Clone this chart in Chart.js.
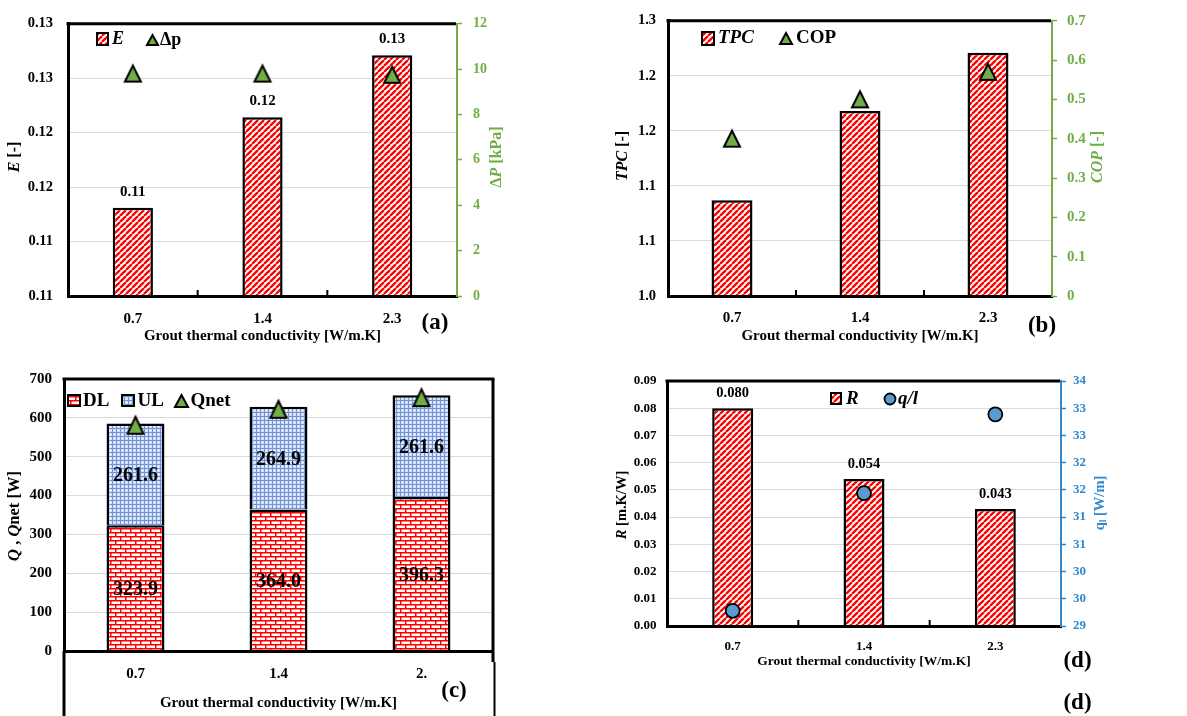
<!DOCTYPE html>
<html>
<head>
<meta charset="utf-8">
<script src="https://cdn.jsdelivr.net/npm/chart.js@4.4.1/dist/chart.umd.min.js"></script>
<style>
  html, body { margin: 0; padding: 0; background: #fff; }
  #fig { position: relative; width: 1187px; height: 716px; overflow: hidden; background: #fff; }
  #fig canvas { position: absolute; left: 0; top: 0; }
</style>
</head>
<body>
<div id="fig">
  <canvas id="panelA" width="1187" height="716"></canvas>
  <canvas id="panelB" width="1187" height="716"></canvas>
  <canvas id="panelC" width="1187" height="716"></canvas>
  <canvas id="panelD" width="1187" height="716"></canvas>
</div>
<script>
// ---- data ----
const conductivity = ['0.7', '1.4', '2.3'];
const conductivityC = ['0.7', '1.4', '2.'];

const effectiveness = [0.1131, 0.1214, 0.1271];   // E [-]
const pressureDrop = [9.8, 9.8, 9.75];              // ΔP [kPa]

const tpc = [1.087, 1.168, 1.221];                  // TPC [-]
const cop = [0.40, 0.50, 0.57];                     // COP [-]

const downLeg = [323.9, 364.0, 396.3];              // DL [W]
const upLeg = [261.6, 264.9, 261.6];                // UL [W]
const qNet = [581, 622, 652];                       // Qnet [W]

const resistance = [0.080, 0.054, 0.043];           // R [m.K/W]
const heatRate = [29.31, 31.71, 33.32];             // q_l [W/m]

const ticksE = ['0.11', '0.11', '0.12', '0.12', '0.13', '0.13'];
const ticksDP = ['0', '2', '4', '6', '8', '10', '12'];
const ticksTPC = ['1.0', '1.1', '1.1', '1.2', '1.2', '1.3'];
const ticksCOP = ['0', '0.1', '0.2', '0.3', '0.4', '0.5', '0.6', '0.7'];
const ticksQ = ['0', '100', '200', '300', '400', '500', '600', '700'];
const ticksR = ['0.00', '0.01', '0.02', '0.03', '0.04', '0.05', '0.06', '0.07', '0.08', '0.09'];
const ticksQl = ['29', '30', '30', '31', '31', '32', '32', '33', '33', '34'];

// ---- styling ----
const W = 1187, H = 716;
const SERIF = "'Liberation Serif', 'Times New Roman', Times, serif";
const GREEN = '#70AD47';
const BLUE = '#2F89CC';
const GRID = '#D9D9D9';
const XTITLE = 'Grout thermal conductivity [W/m.K]';

Chart.defaults.font.family = SERIF;
Chart.defaults.animation = false;
Chart.defaults.events = [];
Chart.defaults.plugins.legend.display = false;
Chart.defaults.plugins.tooltip.enabled = false;

// ---- fill patterns ----
function tile(w, h, paint) {
  const c = document.createElement('canvas');
  c.width = w; c.height = h;
  paint(c.getContext('2d'));
  return c;
}
function stripes(ctx) {
  return ctx.createPattern(tile(6, 6, g => {
    g.fillStyle = '#fff'; g.fillRect(0, 0, 6, 6);
    g.strokeStyle = '#ff0000'; g.lineWidth = 2.3; g.beginPath();
    for (const o of [-6, 0, 6]) { g.moveTo(o, 6); g.lineTo(o + 6, 0); }
    g.stroke();
  }), 'repeat');
}
function bricks(ctx) {
  return ctx.createPattern(tile(10, 8, g => {
    g.fillStyle = '#fff'; g.fillRect(0, 0, 10, 8);
    g.fillStyle = '#ff0000';
    g.fillRect(0, 0, 10, 1.5); g.fillRect(0, 4, 10, 1.5);
    g.fillRect(0, 0, 1.5, 4); g.fillRect(5, 4, 1.5, 4);
  }), 'repeat');
}
function weave(ctx) {
  return ctx.createPattern(tile(4, 4, g => {
    g.fillStyle = '#d3def5'; g.fillRect(0, 0, 4, 4);
    g.fillStyle = '#7193d8';
    g.fillRect(0, 0, 4, 1); g.fillRect(0, 0, 1, 4);
    g.fillStyle = '#ffffff'; g.fillRect(2, 2, 1, 1);
  }), 'repeat');
}
function triangle(w, h) {
  const p = 3;
  return tile(w + 2 * p, h + 2 * p, g => {
    g.beginPath();
    g.moveTo(p + w / 2, p); g.lineTo(p + w, p + h); g.lineTo(p, p + h); g.closePath();
    g.fillStyle = GREEN; g.fill();
    g.lineWidth = 2; g.strokeStyle = '#000'; g.lineJoin = 'miter'; g.stroke();
  });
}

// ---- text helpers ----
function partFont(p, size) {
  const s = p[1] || '';
  const sz = s.includes('sub') ? size * 0.65 : size;
  return (s.includes('i') && !s.includes('sub') ? 'italic ' : '') + 'bold ' + sz + 'px ' + SERIF;
}
function drawRich(ctx, parts, x, y, size, color, rot, align) {
  ctx.save();
  ctx.translate(x, y);
  if (rot) ctx.rotate(rot);
  ctx.fillStyle = color;
  ctx.textBaseline = 'middle';
  ctx.textAlign = 'left';
  let total = 0;
  const widths = parts.map(p => { ctx.font = partFont(p, size); const w = ctx.measureText(p[0]).width; total += w; return w; });
  let cx = align === 'left' ? 0 : -total / 2;
  parts.forEach((p, i) => {
    ctx.font = partFont(p, size);
    const dy = (p[1] || '').includes('sub') ? size * 0.28 : 0;
    ctx.fillText(p[0], cx, dy);
    cx += widths[i];
  });
  ctx.restore();
}
function line(ctx, x1, y1, x2, y2, w, color) {
  ctx.save();
  ctx.beginPath(); ctx.moveTo(x1, y1); ctx.lineTo(x2, y2);
  ctx.lineWidth = w; ctx.strokeStyle = color; ctx.lineCap = 'butt'; ctx.stroke();
  ctx.restore();
}

// ---- axes ----
function xAxis(A, size, pad, stacked) {
  return {
    type: 'category', offset: true, stacked: !!stacked,
    afterFit: s => { s.height = H - A.b; },
    grid: { display: false },
    border: { display: true, color: '#000', width: 3, z: 1 },
    ticks: { padding: pad, color: '#000', maxRotation: 0, minRotation: 0, autoSkip: false,
             font: { family: SERIF, weight: 'bold', size: size } }
  };
}
function leftAxis(A, o) {
  return {
    type: 'linear', position: 'left', min: o.min, max: o.max, stacked: !!o.stacked,
    afterFit: s => { s.width = A.l; },
    grid: { color: GRID, lineWidth: 1, drawTicks: false },
    border: { display: true, color: '#000', width: 3, z: 1 },
    ticks: { count: o.labels.length, padding: o.pad, color: '#000',
             font: { family: SERIF, weight: 'bold', size: o.size },
             callback: (v, i) => o.labels[i] }
  };
}
function rightAxis(A, o) {
  return {
    type: 'linear', position: 'right', min: o.min, max: o.max,
    afterFit: s => { s.width = W - A.r; },
    grid: { drawOnChartArea: false, drawTicks: true, tickLength: 5, color: o.color, tickColor: o.color, tickWidth: 1.5 },
    border: { display: true, color: o.color, width: 2, z: 1 },
    ticks: { count: o.labels.length, padding: o.pad, color: o.color,
             font: { family: SERIF, weight: 'bold', size: o.size },
             callback: (v, i) => o.labels[i] }
  };
}

// ---- per-panel decorations: frame, titles, legend, value labels ----
function decorPlugin(d) {
  return {
    id: 'decor',
    afterDatasetsDraw(chart) {
      const ctx = chart.ctx;
      (d.values || []).forEach(v => {
        const meta = chart.getDatasetMeta(v.ds);
        const src = chart.data.datasets[v.ds].data;
        meta.data.forEach((el, i) => {
          const y = v.center ? (el.y + el.base) / 2 + (v.dy || 0) : el.y - v.offset;
          drawRich(ctx, [[v.fmt(src[i])]], el.x, y, v.size, '#000', 0);
        });
      });
    },
    afterDraw(chart) {
      const ctx = chart.ctx, ca = chart.chartArea;
      line(ctx, ca.left - 1.5, ca.top, ca.right + (d.rightAxis ? -1 : 1.5), ca.top, 3, '#000');
      if (d.insideTicks) {
        const n = chart.scales.x.ticks.length, step = (ca.right - ca.left) / n;
        for (let k = 1; k < n; k++) line(ctx, ca.left + k * step, ca.bottom, ca.left + k * step, ca.bottom - 6, 2, '#000');
      }
      (d.lines || []).forEach(l => line(ctx, l[0], l[1], l[2], l[3], l[4], '#000'));
      (d.titles || []).forEach(t => drawRich(ctx, t.parts, t.x, t.y, t.size, t.color || '#000', t.rot || 0));
      (d.legend || []).forEach(it => {
        if (it.box) {
          ctx.save();
          ctx.fillStyle = it.box; ctx.fillRect(it.x, it.y, it.w, it.h);
          ctx.lineWidth = 2; ctx.strokeStyle = '#000'; ctx.strokeRect(it.x, it.y, it.w, it.h);
          ctx.restore();
        } else if (it.img) {
          ctx.drawImage(it.img, Math.round(it.x - it.img.width / 2), Math.round(it.y - it.img.height / 2));
        } else if (it.dot) {
          ctx.save();
          ctx.beginPath(); ctx.arc(it.x, it.y, it.dot, 0, Math.PI * 2);
          ctx.fillStyle = it.fill; ctx.fill();
          ctx.lineWidth = 1.8; ctx.strokeStyle = '#000'; ctx.stroke();
          ctx.restore();
        } else if (it.parts) {
          drawRich(ctx, it.parts, it.x, it.y, it.size, '#000', 0, 'left');
        }
      });
    }
  };
}

function makeChart(id, A, data, scales, decor, rightPad) {
  const ctx = document.getElementById(id).getContext('2d');
  return new Chart(ctx, {
    type: 'bar',
    data: data(ctx),
    options: {
      responsive: false,
      maintainAspectRatio: false,
      layout: { padding: { top: A.t, left: 0, bottom: 0, right: rightPad || 0 } },
      scales: scales
    },
    plugins: [decorPlugin(decor(ctx))]
  });
}

const UP = -Math.PI / 2;

// (a) effectiveness and pressure drop
const areaA = { l: 68, t: 16, r: 457, b: 296 };
makeChart('panelA', areaA,
  ctx => ({
    labels: conductivity,
    datasets: [
      { type: 'line', label: 'Δp', data: pressureDrop, yAxisID: 'y1', showLine: false,
        pointStyle: triangle(16, 16), pointRadius: 9, order: 0, clip: false },
      { type: 'bar', label: 'E', data: effectiveness, yAxisID: 'y', backgroundColor: stripes(ctx),
        borderColor: '#000', borderWidth: 2.5, categoryPercentage: 1, barPercentage: 0.31, order: 1 }
    ]
  }),
  {
    x: xAxis(areaA, 15, 6),
    y: leftAxis(areaA, { min: 0.105, max: 0.130, labels: ticksE, pad: 15, size: 14.5 }),
    y1: rightAxis(areaA, { min: 0, max: 12, labels: ticksDP, pad: 11, size: 14, color: GREEN })
  },
  ctx => ({
    rightAxis: true, insideTicks: true,
    values: [{ ds: 1, fmt: v => v.toFixed(2), size: 15, offset: 16 }],
    titles: [
      { parts: [['E', 'i'], [' [-]']], x: 15, y: 157, size: 16, rot: UP },
      { parts: [['Δ'], ['P', 'i'], [' [kPa]']], x: 497, y: 157, size: 16, rot: UP, color: GREEN },
      { parts: [[XTITLE]], x: 262.5, y: 336, size: 15 },
      { parts: [['(a)']], x: 435, y: 323, size: 23 }
    ],
    legend: [
      { box: stripes(ctx), x: 97, y: 33, w: 11, h: 12 },
      { parts: [['E', 'i']], x: 112, y: 39, size: 18 },
      { img: triangle(11, 10), x: 152, y: 40 },
      { parts: [['Δp']], x: 160, y: 40, size: 18 }
    ]
  })
);

// (b) thermal performance coefficient and COP
const areaB = { l: 668, t: 16, r: 1052, b: 296 };
makeChart('panelB', areaB,
  ctx => ({
    labels: conductivity,
    datasets: [
      { type: 'line', label: 'COP', data: cop, yAxisID: 'y1', showLine: false,
        pointStyle: triangle(16, 16), pointRadius: 9, order: 0, clip: false },
      { type: 'bar', label: 'TPC', data: tpc, yAxisID: 'y', backgroundColor: stripes(ctx),
        borderColor: '#000', borderWidth: 2.5, categoryPercentage: 1, barPercentage: 0.32, order: 1 }
    ]
  }),
  {
    x: xAxis(areaB, 15, 5),
    y: leftAxis(areaB, { min: 1.0, max: 1.25, labels: ticksTPC, pad: 12, size: 14.5 }),
    y1: rightAxis(areaB, { min: 0, max: 0.7, labels: ticksCOP, pad: 10, size: 15, color: GREEN })
  },
  ctx => ({
    rightAxis: true, insideTicks: true,
    titles: [
      { parts: [['TPC', 'i'], [' [-]']], x: 623, y: 156, size: 16, rot: UP },
      { parts: [['COP', 'i'], [' [-]']], x: 1098, y: 157, size: 16, rot: UP, color: GREEN },
      { parts: [[XTITLE]], x: 860, y: 336, size: 15 },
      { parts: [['(b)']], x: 1042, y: 326, size: 23 }
    ],
    legend: [
      { box: stripes(ctx), x: 702, y: 32, w: 12, h: 13 },
      { parts: [['TPC', 'i']], x: 718, y: 38, size: 19 },
      { img: triangle(12, 11), x: 786, y: 38 },
      { parts: [['COP']], x: 796, y: 38, size: 19 }
    ]
  })
);

// (c) heat transfer of the down and up legs
const areaC = { l: 64, t: 379, r: 493, b: 651 };
makeChart('panelC', areaC,
  ctx => ({
    labels: conductivityC,
    datasets: [
      { type: 'line', label: 'Qnet', data: qNet, yAxisID: 'y', stack: 'net', showLine: false,
        pointStyle: triangle(16, 17), pointRadius: 9, order: 0, clip: false },
      { type: 'bar', label: 'DL', data: downLeg, yAxisID: 'y', stack: 'legs', backgroundColor: bricks(ctx),
        borderColor: '#000', borderWidth: 2.5, categoryPercentage: 1, barPercentage: 0.405, order: 1 },
      { type: 'bar', label: 'UL', data: upLeg, yAxisID: 'y', stack: 'legs', backgroundColor: weave(ctx),
        borderColor: '#000', borderWidth: 2.5, categoryPercentage: 1, barPercentage: 0.405, order: 1 }
    ]
  }),
  {
    x: xAxis(areaC, 15, 6, true),
    y: leftAxis(areaC, { min: 0, max: 700, labels: ticksQ, pad: 12, size: 15, stacked: true })
  },
  ctx => ({
    rightAxis: false, insideTicks: false,
    values: [
      { ds: 1, fmt: v => v.toFixed(1), size: 20, center: true, dy: 2 },
      { ds: 2, fmt: v => v.toFixed(1), size: 20, center: true, dy: 2 }
    ],
    lines: [
      [493, 379, 493, 662, 3],
      [494.5, 662, 494.5, 716, 2],
      [64, 651, 64, 716, 3]
    ],
    titles: [
      { parts: [['Q', 'i'], [' , '], ['Q', 'i'], ['net'], [' [W]']], x: 15, y: 516, size: 16.5, rot: UP },
      { parts: [[XTITLE]], x: 278.5, y: 703, size: 15 },
      { parts: [['(c)']], x: 454, y: 691, size: 23 }
    ],
    legend: [
      { box: bricks(ctx), x: 68, y: 395, w: 12, h: 11 },
      { parts: [['DL']], x: 83, y: 401, size: 19 },
      { box: weave(ctx), x: 122, y: 395, w: 12, h: 11 },
      { parts: [['UL']], x: 137.5, y: 401, size: 19 },
      { img: triangle(13, 12), x: 181, y: 401 },
      { parts: [['Qnet']], x: 190.5, y: 401, size: 19 }
    ]
  }),
  W - areaC.r
);

// (d) borehole thermal resistance and heat rate per unit length
const areaD = { l: 667, t: 381, r: 1061, b: 626 };
makeChart('panelD', areaD,
  ctx => ({
    labels: conductivity,
    datasets: [
      { type: 'line', label: 'q/l', data: heatRate, yAxisID: 'y1', showLine: false,
        pointStyle: 'circle', pointRadius: 7, pointBackgroundColor: '#5B9BD5', pointBorderColor: '#000',
        pointBorderWidth: 1.8, backgroundColor: '#5B9BD5', borderColor: '#000', order: 0, clip: false },
      { type: 'bar', label: 'R', data: resistance, yAxisID: 'y', backgroundColor: stripes(ctx),
        borderColor: '#000', borderWidth: 2.5, categoryPercentage: 1, barPercentage: 0.312, order: 1 }
    ]
  }),
  {
    x: xAxis(areaD, 13, 5),
    y: leftAxis(areaD, { min: 0, max: 0.09, labels: ticksR, pad: 10.5, size: 13 }),
    y1: rightAxis(areaD, { min: 29, max: 34, labels: ticksQl, pad: 7, size: 13, color: BLUE })
  },
  ctx => ({
    rightAxis: true, insideTicks: true,
    values: [{ ds: 1, fmt: v => v.toFixed(3), size: 14.5, offset: 15 }],
    titles: [
      { parts: [['R', 'i'], [' [m.K/W]']], x: 622, y: 505, size: 14.5, rot: UP },
      { parts: [['q'], ['l', 'sub'], [' [W/m]']], x: 1100, y: 503, size: 14.5, rot: UP, color: BLUE },
      { parts: [[XTITLE]], x: 864, y: 662, size: 13.5 },
      { parts: [['(d)']], x: 1077.5, y: 661, size: 23 },
      { parts: [['(d)']], x: 1077.5, y: 703, size: 23 }
    ],
    legend: [
      { box: stripes(ctx), x: 831, y: 393, w: 10, h: 11 },
      { parts: [['R', 'i']], x: 846, y: 399, size: 19 },
      { dot: 5.5, fill: '#5B9BD5', x: 890, y: 399 },
      { parts: [['q/l', 'i']], x: 898, y: 399, size: 19 }
    ]
  })
);
</script>
</body>
</html>
